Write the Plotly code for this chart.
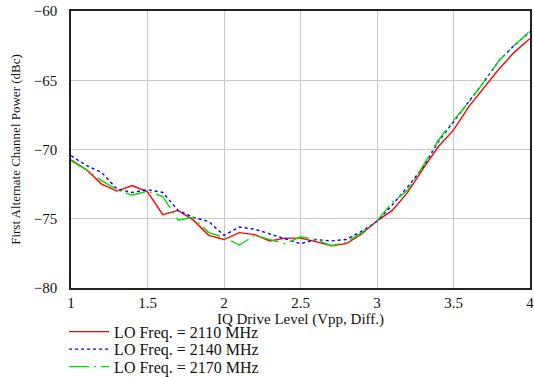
"""IQ drive level vs first alternate channel power."""

import plotly.graph_objects as go

DRIVE = [1.0, 1.1, 1.2, 1.3, 1.4, 1.5, 1.6, 1.7, 1.8, 1.9, 2.0,
         2.1, 2.2, 2.3, 2.4, 2.5, 2.6, 2.7, 2.8, 2.9, 3.0,
         3.1, 3.2, 3.3, 3.4, 3.5, 3.6, 3.7, 3.8, 3.9, 4.0]
P_2110 = [-70.75, -71.45, -72.5, -73.0, -72.6, -73.05, -74.7, -74.4, -75.1, -76.2, -76.5,
          -76.0, -76.15, -76.6, -76.4, -76.4, -76.65, -76.95, -76.8, -76.1, -75.15,
          -74.4, -73.1, -71.4, -69.8, -68.6, -66.9, -65.5, -64.15, -62.95, -61.98]
P_2140 = [-70.45, -71.15, -71.65, -72.85, -73.1, -72.9, -73.1, -74.4, -74.9, -75.2, -76.2,
          -75.6, -75.75, -76.1, -76.5, -76.8, -76.5, -76.6, -76.5, -75.9, -75.2,
          -74.0, -72.7, -71.3, -69.45, -68.0, -66.6, -65.1, -63.55, -62.45, -61.5]
P_2170 = [-70.8, -71.45, -72.25, -72.9, -73.3, -73.0, -73.4, -75.1, -74.9, -76.0, -76.35,
          -76.9, -76.2, -76.5, -76.8, -76.3, -76.5, -76.95, -76.7, -76.0, -75.15,
          -73.8, -72.95, -71.2, -69.35, -67.9, -66.6, -65.1, -63.55, -62.45, -61.45]
LABELS = ["LO Freq. = 2110 MHz", "LO Freq. = 2140 MHz", "LO Freq. = 2170 MHz"]
X_TICKS = [1, 1.5, 2, 2.5, 3, 3.5, 4]
Y_TICKS = [-80, -75, -70, -65, -60]

FONT = "Liberation Serif, Times New Roman, serif"


def main():
    """Build and write the figure."""
    fig = go.Figure()
    styles = [
        ("#ff0000", "solid"),
        ("#0000ff", "3px,3px"),
        ("#00dd00", "20px,5px,2px,5px"),
    ]
    legends = ["legend", "legend2", "legend3"]
    for label, values, (color, dash), lg in zip(
        LABELS, [P_2110, P_2140, P_2170], styles, legends
    ):
        fig.add_trace(go.Scatter(
            x=DRIVE, y=values, name=label, mode="lines", legend=lg,
            line=dict(color=color, width=1.4, dash=dash),
        ))
    axis = dict(
        showline=True, linecolor="#222222", linewidth=1.5, mirror=True,
        showgrid=True, gridcolor="#c8c8c8", gridwidth=1,
        zeroline=False, tickcolor="rgba(0,0,0,0)", tickmode="array",
        tickfont=dict(size=15, color="#111111"), automargin=False,
        ticklabeloverflow="allow",
    )
    fig.update_xaxes(
        range=[1, 4], tickvals=X_TICKS, ticks="",
        title=dict(text="IQ Drive Level (Vpp, Diff.)", font=dict(size=15), standoff=3),
        **axis,
    )
    fig.update_yaxes(
        range=[-80, -60], tickvals=Y_TICKS, ticks="outside", ticklen=9,
        title=dict(text="First Alternate Channel Power (dBc)", font=dict(size=13), standoff=10),
        **axis,
    )
    leg = dict(
        x=-0.015, xanchor="left", yanchor="middle", itemwidth=40,
        font=dict(size=16), bgcolor="rgba(0,0,0,0)",
    )
    rows = [331.7, 349.2, 366.7]
    fig.update_layout(
        width=534, height=377, showlegend=True,
        margin=dict(l=71, r=4, t=11, b=89, autoexpand=False),
        paper_bgcolor="white", plot_bgcolor="white",
        font=dict(family=FONT, color="#111111"),
        legend=dict(y=(288 - rows[0]) / 277, **leg),
        legend2=dict(y=(288 - rows[1]) / 277, **leg),
        legend3=dict(y=(288 - rows[2]) / 277, **leg),
    )
    # the page body has a default 8px margin; drop it so the figure fills the window
    fig.write_html(
        "out.html",
        config={"displayModeBar": False},
        post_script="document.body.style.margin='0';",
    )


if __name__ == "__main__":
    main()
